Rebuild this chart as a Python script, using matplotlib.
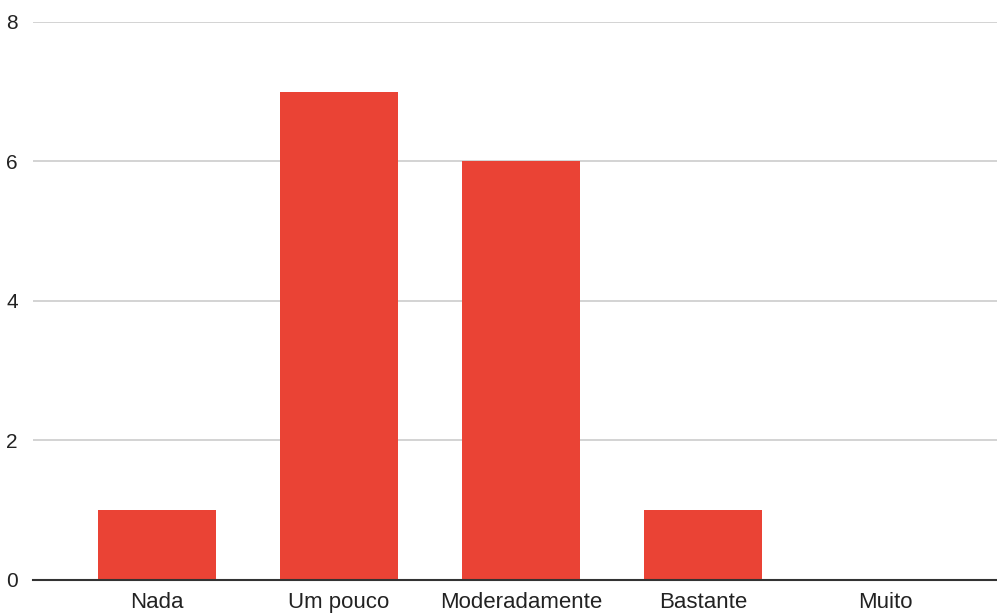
import matplotlib
matplotlib.use("Agg")
import matplotlib.pyplot as plt

categories = ["Nada", "Um pouco", "Moderadamente", "Bastante", "Muito"]
counts = [1, 7, 6, 1, 0]
y_ticks = [0, 2, 4, 6, 8]

plt.rcParams["font.family"] = ["Liberation Sans", "DejaVu Sans"]

fig = plt.figure(figsize=(9.97, 6.14), dpi=100)
ax = fig.add_axes([0.0331, 0.0554, 0.9669, 0.9088])

x = list(range(len(categories)))
ax.bar(x, counts, width=0.648, color="#EA4335", zorder=3)

ax.set_ylim(0, 8)
ax.set_xlim(-0.681, 4.615)
ax.set_yticks(y_ticks)
ax.set_yticklabels([str(v) for v in y_ticks], fontsize=15, color="#222222")
ax.set_xticks(x)
ax.set_xticklabels(categories, fontsize=16, color="#222222")
ax.tick_params(axis="both", length=0)
ax.tick_params(axis="y", pad=11)
ax.tick_params(axis="x", pad=9)

ax.grid(axis="y", color="#cccccc", linewidth=1.2, zorder=0)
for side in ["top", "right", "left"]:
    ax.spines[side].set_visible(False)
ax.spines["bottom"].set_color("#333333")
ax.spines["bottom"].set_linewidth(1.5)
ax.spines["bottom"].set_zorder(4)

fig.savefig("out.png", dpi=100)
